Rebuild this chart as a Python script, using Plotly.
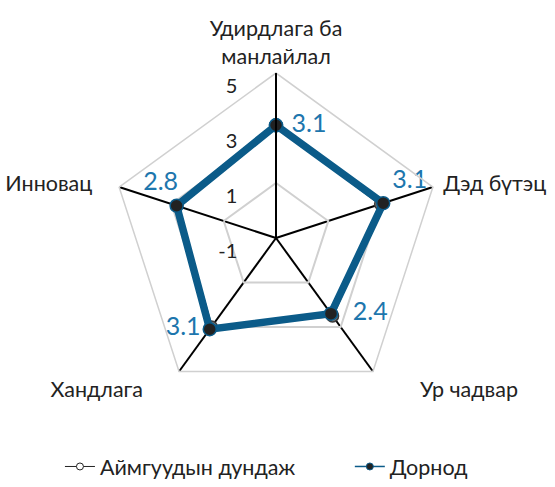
import plotly.graph_objects as go

# Dimensions of the assessment, clockwise from the top
categories = ["Удирдлага ба манлайлал", "Дэд бүтэц", "Ур чадвар", "Хандлага", "Инновац"]
avg_values = [3.1, 3.0, 2.5, 3.0, 2.8]       # Аймгуудын дундаж
dornod_values = [3.1, 3.1, 2.4, 3.1, 2.8]    # Дорнод
radial_ticks = [-1, 1, 3, 5]

NB = "\u00a0"
# Category tick text, padded away from the outer polygon
category_ticktext = [
    "Удирдлага ба<br>манлайлал",
    NB + "Дэд бүтэц",
    NB * 8 + "Ур чадвар",
    "Хандлага" + NB * 6,
    "Инновац" + NB * 4,
]

# Value label placement around each marker
label_positions = ["middle right", "top right", "middle right", "middle left", "top center"]
lead_pads = [1, 0, 2, 0, 0]
trail_pads = [0, 0, 0, 0, 5]

def closed(seq):
    return list(seq) + [seq[0]]

FONT = "Lato"
BLUE = "#0b5b89"
LABEL_BLUE = "#1d76ad"
TEXT = "#222222"

fig = go.Figure()

fig.add_trace(go.Scatterpolar(
    r=closed(avg_values),
    theta=closed(categories),
    name="Аймгуудын дундаж",
    mode="lines+markers",
    line=dict(color="#4a4a4a", width=3),
    marker=dict(size=12, color="#777777", line=dict(color="#3a3a3a", width=1.5)),
    showlegend=False,
))

fig.add_trace(go.Scatterpolar(
    r=closed(dornod_values),
    theta=closed(categories),
    name="Дорнод",
    mode="lines+markers+text",
    line=dict(color=BLUE, width=7.5),
    marker=dict(size=13, color="#222222", line=dict(color=BLUE, width=1.5)),
    text=[NB * a + f"{v:.1f}" + NB * b
          for v, a, b in zip(dornod_values, lead_pads, trail_pads)] + [""],
    textposition=closed(label_positions),
    textfont=dict(family=FONT, size=25, color=LABEL_BLUE),
    showlegend=False,
))

# Legend entries with thin lines and small markers
fig.add_trace(go.Scatterpolar(
    r=[None], theta=[categories[0]],
    name="Аймгуудын дундаж" + NB * 9,
    mode="lines+markers",
    line=dict(color="#222222", width=1),
    marker=dict(size=7, color="white", line=dict(color="#222222", width=1)),
))
fig.add_trace(go.Scatterpolar(
    r=[None], theta=[categories[0]],
    name="Дорнод",
    mode="lines+markers",
    line=dict(color=BLUE, width=1.5),
    marker=dict(size=7, color="#222222", line=dict(color=BLUE, width=1)),
))

fig.update_layout(
    width=555,
    height=487,
    margin=dict(l=0, r=0, t=0, b=0),
    paper_bgcolor="white",
    plot_bgcolor="white",
    font=dict(family=FONT, size=21, color=TEXT),
    showlegend=True,
    legend=dict(
        orientation="h",
        x=0.108, xanchor="left",
        y=0, yanchor="bottom",
        font=dict(family=FONT, size=21.5, color=TEXT),
        itemwidth=30,
        traceorder="normal",
    ),
    polar=dict(
        domain=dict(x=[0.2, 0.7946], y=[0.1725, 0.850]),
        bgcolor="white",
        gridshape="linear",
        radialaxis=dict(
            range=[-1, 5],
            tickvals=radial_ticks,
            ticktext=["<br>" + str(t) + NB * 6 for t in radial_ticks],
            angle=90,
            tickangle=90,
            side="counterclockwise",
            showline=True,
            linecolor="black",
            linewidth=2,
            gridcolor="#d0d0d0",
            gridwidth=1.5,
            ticks="",
            tickfont=dict(family=FONT, size=20, color=TEXT),
        ),
        angularaxis=dict(
            rotation=90,
            direction="clockwise",
            tickvals=categories,
            ticktext=category_ticktext,
            showline=True,
            linecolor="#d0d0d0",
            linewidth=1.5,
            gridcolor="black",
            gridwidth=1.5,
            ticks="",
            tickfont=dict(family=FONT, size=21.5, color=TEXT),
        ),
    ),
)

fig.write_html("out.html")
